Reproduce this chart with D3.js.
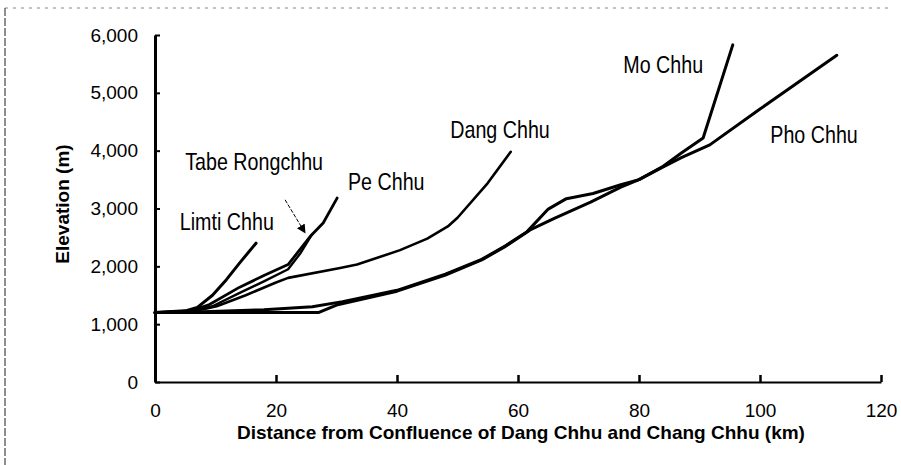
<!DOCTYPE html>
<html>
<head>
<meta charset="utf-8">
<script src="https://cdn.jsdelivr.net/npm/d3@7"></script>
<style>
  body { margin: 0; background: #fff; }
  text { font-family: "Liberation Sans", Arial, sans-serif; fill: #000; }
</style>
</head>
<body>
<div id="chart"></div>
<script>
// river long profiles: [distance km, elevation m]
const phoChhu = [[0,1200],[27,1200],[30,1330],[40,1570],[48,1850],[54,2110],[58,2350],[62,2630],[66,2830],[72,3110],[77,3370],[80,3500],[84,3720],[87,3880],[91.7,4100],[100,4720],[112.7,5650]];
const moChhu = [[0,1200],[8,1215],[18,1250],[26,1300],[31,1390],[40,1585],[48,1865],[54,2120],[58,2360],[61.5,2600],[65,2990],[68,3170],[72.4,3260],[77,3410],[80,3500],[84,3730],[87,3960],[90.6,4220],[95.5,5830]];
const dangChhu = [[0,1200],[5,1220],[8,1260],[10.2,1310],[15,1500],[20,1720],[22,1800],[30.6,1970],[33.4,2030],[40.5,2280],[45,2480],[48.4,2690],[50,2840],[55,3440],[58.8,3980]];
const peChhu = [[0,1200],[6,1230],[9,1340],[14,1640],[18,1840],[22,2030],[25.6,2510],[27.8,2750],[30.1,3180]];
const tabeRongchhu = [[0,1200],[6,1225],[9.5,1310],[14,1540],[18,1740],[22,1950],[24,2220],[26,2560]];
const limtiChhu = [[0,1200],[5,1230],[7,1290],[9.5,1500],[11.8,1770],[14,2060],[16.7,2400]];

const series = [phoChhu, moChhu, dangChhu, peChhu, tabeRongchhu, limtiChhu];
const seriesWidth = [3, 3, 2.6, 2.8, 2.4, 3];

const labelNames = ['Limti Chhu', 'Tabe Rongchhu', 'Pe Chhu', 'Dang Chhu', 'Mo Chhu', 'Pho Chhu'];
const labelAt = [[4.1,2630],[5,3670],[31.9,3320],[48.8,4220],[77.4,5345],[101.7,4135]];

const xTicks = [0, 20, 40, 60, 80, 100, 120];
const yTicks = [0, 1000, 2000, 3000, 4000, 5000, 6000];

const W = 901, H = 465;
const svg = d3.select('#chart').append('svg')
  .attr('width', W).attr('height', H);

// scanned page frame
svg.append('line').attr('x1', 5).attr('y1', 8).attr('x2', 890).attr('y2', 8)
  .attr('stroke', '#888').attr('stroke-width', 1).attr('stroke-dasharray', '3,5');
svg.append('line').attr('x1', 5).attr('y1', 8).attr('x2', 5).attr('y2', 465)
  .attr('stroke', '#444').attr('stroke-width', 1.2).attr('stroke-dasharray', '8,2');

const x = d3.scaleLinear().domain([0, 120]).range([155, 881]);
const y = d3.scaleLinear().domain([0, 6000]).range([382, 35]);

// axes
const yAxis = svg.append('g')
  .attr('transform', `translate(${x(0)},0)`)
  .call(d3.axisLeft(y).tickValues(yTicks).tickFormat(d3.format(',')).tickSizeInner(-5).tickSizeOuter(0).tickPadding(17));
yAxis.select('.domain').attr('stroke-width', 3);
yAxis.selectAll('.tick line').attr('stroke-width', 2);

const xAxis = svg.append('g')
  .attr('transform', `translate(0,${y(0)})`)
  .call(d3.axisBottom(x).tickValues(xTicks).tickSizeInner(-7).tickSizeOuter(0).tickPadding(22));
xAxis.select('.domain').attr('stroke-width', 2);
xAxis.selectAll('.tick line').attr('stroke-width', 2.5);

svg.selectAll('.tick text')
  .style('font-family', '"Liberation Sans", Arial, sans-serif')
  .style('font-size', '19px')
  .attr('fill', '#000');

// axis titles
svg.append('text')
  .attr('x', 521).attr('y', 439)
  .attr('text-anchor', 'middle')
  .style('font-size', '19px').style('font-weight', 'bold')
  .text('Distance from Confluence of Dang Chhu and Chang Chhu (km)');

svg.append('text')
  .attr('transform', 'translate(69,204) rotate(-90)')
  .attr('text-anchor', 'middle')
  .style('font-size', '19px').style('font-weight', 'bold')
  .text('Elevation (m)');

// profiles
const line = d3.line().x(d => x(d[0])).y(d => y(d[1]));
svg.append('g').selectAll('path')
  .data(series)
  .join('path')
  .attr('d', line)
  .attr('fill', 'none')
  .attr('stroke', '#000')
  .attr('stroke-width', (d, i) => seriesWidth[i])
  .attr('stroke-linejoin', 'round')
  .attr('stroke-linecap', 'round');

// river names (condensed face)
svg.append('g').selectAll('text')
  .data(labelNames)
  .join('text')
  .attr('transform', (d, i) => `translate(${x(labelAt[i][0])},${y(labelAt[i][1])}) scale(0.82,1)`)
  .style('font-size', '24px')
  .text(d => d);

// pointer to Tabe Rongchhu
svg.append('defs').append('marker')
  .attr('id', 'head').attr('viewBox', '0 0 10 10')
  .attr('refX', 9).attr('refY', 5)
  .attr('markerWidth', 9).attr('markerHeight', 9)
  .attr('orient', 'auto')
  .append('path').attr('d', 'M0,0L10,5L0,10z').attr('fill', '#000');

svg.append('line')
  .attr('x1', x(21.5)).attr('y1', y(3150))
  .attr('x2', x(24.8)).attr('y2', y(2580))
  .attr('stroke', '#000').attr('stroke-width', 1)
  .attr('stroke-dasharray', '4,1.5')
  .attr('marker-end', 'url(#head)');
</script>
</body>
</html>
